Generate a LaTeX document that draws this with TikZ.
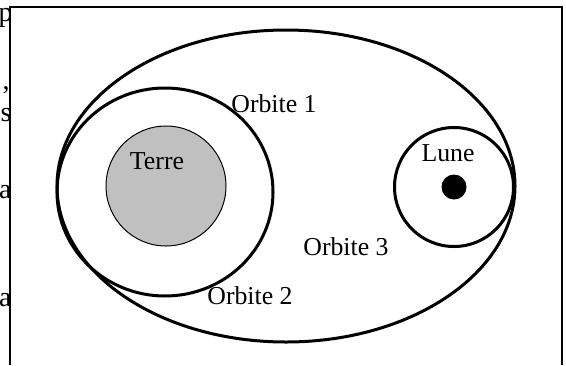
\documentclass[tikz,border=0pt]{standalone}
\usepackage{fontspec}
\setmainfont{Liberation Serif}
\begin{document}
\begin{tikzpicture}[x=0.5pt,y=-0.5pt,
  orbit/.style={draw=black,line width=1.5pt},
  lbl/.style={font=\fontsize{12.9}{15}\selectfont,inner sep=0pt},
  frag/.style={font=\fontsize{14}{16}\selectfont,inner sep=0pt,anchor=base east}]
\useasboundingbox (0,0) rectangle (566,365);
% frame
\draw[line width=1pt] (10,365) -- (10,7) -- (562,7) -- (562,365);
% cut-off text fragments at left edge
\begin{scope}
\clip (0,0) rectangle (9.5,365);
\node[frag] (f1) at (13,21) {p};
\node[frag] (f2) at (10,89) {,};
\node[frag] (f3) at (12,121) {s};
\node[frag] (f4) at (12,198) {a};
\node[frag] (f5) at (12,306) {a};
\end{scope}
% Terre
\node[circle,draw=black,line width=0.5pt,fill={rgb,255:red,192;green,192;blue,192},minimum size=60pt,inner sep=0pt] (terre) at (166,186) {};
% orbits
\draw[orbit] (286,186) ellipse [x radius=229,y radius=156];
\draw[orbit] (165,192) ellipse [x radius=108,y radius=104];
\node[circle,orbit,minimum size=59.5pt,inner sep=0pt] (lunec) at (454,187) {};
\node[circle,fill=black,minimum size=12.5pt,inner sep=0pt] (lune) at (454,187) {};
% labels
\node[lbl] (tt) at (157,161) {Terre};
\node[lbl] (lt) at (448,153) {Lune};
\node[lbl] (o1) at (274,104) {Orbite 1};
\node[lbl] (o2) at (250,296) {Orbite 2};
\node[lbl] (o3) at (346,247) {Orbite 3};
\end{tikzpicture}
\end{document}
